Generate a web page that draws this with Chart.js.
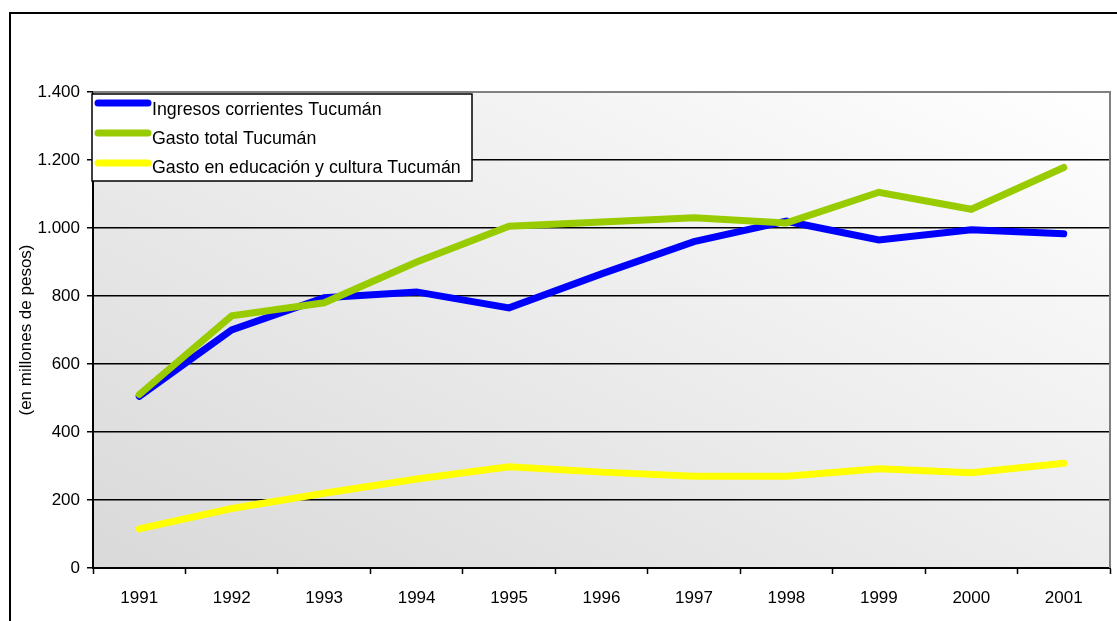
<!DOCTYPE html>
<html>
<head>
<meta charset="utf-8">
<title>Ingresos y gastos Tucumán</title>
<script src="https://cdn.jsdelivr.net/npm/chart.js@4.4.1/dist/chart.umd.min.js"></script>
<style>
  html, body { margin: 0; padding: 0; background: #fff; }
  #wrap { width: 1117px; height: 621px; }
</style>
</head>
<body>
<div id="wrap"><canvas id="chart" width="1117" height="621"></canvas></div>
<script>
'use strict';

var years = ['1991', '1992', '1993', '1994', '1995', '1996', '1997', '1998', '1999', '2000', '2001'];
var seriesNames = [
  'Ingresos corrientes Tucumán',
  'Gasto total Tucumán',
  'Gasto en educación y cultura Tucumán'
];
var ingresos = [505, 700, 795, 812, 765, 865, 960, 1020, 965, 995, 983];
var gastoTotal = [510, 742, 780, 900, 1005, 1018, 1030, 1015, 1105, 1055, 1178];
var gastoEducacion = [115, 175, 220, 262, 298, 282, 270, 270, 292, 280, 308];
var yMin = 0;
var yMax = 1400;
var yStep = 200;
var yTitle = '(en millones de pesos)';

var FONT = '"Liberation Sans", Arial, sans-serif';

function fmtThousands(v) {
  return String(v).replace(/\B(?=(\d{3})+(?!\d))/g, '.');
}

// white page, outer frame, gradient plot background
var backgroundPlugin = {
  id: 'background',
  beforeDraw: function(chart) {
    var ctx = chart.ctx;
    var a = chart.chartArea;
    ctx.save();
    ctx.fillStyle = '#fff';
    ctx.fillRect(0, 0, chart.width, chart.height);
    ctx.strokeStyle = '#000';
    ctx.lineWidth = 2;
    ctx.strokeRect(10, 13, chart.width + 20, chart.height + 20);
    var g = ctx.createLinearGradient(a.left, a.bottom, a.left + 394, a.bottom - 789);
    g.addColorStop(0, '#d9d9d9');
    g.addColorStop(1, '#ffffff');
    ctx.fillStyle = g;
    ctx.fillRect(a.left, a.top, a.right - a.left, a.bottom - a.top);
    ctx.restore();
  },
  beforeDatasetsDraw: function(chart) {
    var ctx = chart.ctx;
    var a = chart.chartArea;
    ctx.save();
    ctx.strokeStyle = '#808080';
    ctx.lineWidth = 2;
    ctx.beginPath();
    ctx.moveTo(a.left, a.top);
    ctx.lineTo(a.right, a.top);
    ctx.lineTo(a.right, a.bottom);
    ctx.stroke();
    ctx.restore();
  }
};

// boxed legend drawn inside the plot, top left
var boxLegendPlugin = {
  id: 'boxLegend',
  afterDraw: function(chart) {
    var ctx = chart.ctx;
    var x0 = 92, y0 = 94, w = 380, h = 87;
    ctx.save();
    ctx.fillStyle = '#fff';
    ctx.fillRect(x0, y0, w, h);
    ctx.strokeStyle = '#000';
    ctx.lineWidth = 1.5;
    ctx.strokeRect(x0, y0, w, h);
    ctx.font = '17.8px ' + FONT;
    ctx.textBaseline = 'middle';
    ctx.textAlign = 'left';
    chart.data.datasets.forEach(function(ds, i) {
      var sy = 103 + i * 30;
      ctx.strokeStyle = ds.borderColor;
      ctx.lineWidth = 7;
      ctx.lineCap = 'round';
      ctx.beginPath();
      ctx.moveTo(98, sy);
      ctx.lineTo(148, sy);
      ctx.stroke();
      ctx.fillStyle = '#000';
      ctx.fillText(ds.label, 152, 110 + i * 29);
    });
    ctx.restore();
  }
};

function lineSet(label, data, color, order) {
  return {
    label: label,
    data: data,
    borderColor: color,
    backgroundColor: color,
    borderWidth: 7,
    borderCapStyle: 'round',
    borderJoinStyle: 'miter',
    pointRadius: 0,
    pointHoverRadius: 0,
    tension: 0,
    fill: false,
    order: order
  };
}

new Chart(document.getElementById('chart'), {
  type: 'line',
  data: {
    labels: years,
    datasets: [
      lineSet(seriesNames[0], ingresos, '#0000ff', 3),
      lineSet(seriesNames[1], gastoTotal, '#99cc00', 2),
      lineSet(seriesNames[2], gastoEducacion, '#ffff00', 1)
    ]
  },
  options: {
    responsive: false,
    animation: false,
    events: [],
    layout: { padding: { left: 0, top: 92, right: 7, bottom: 0 } },
    plugins: {
      legend: { display: false },
      title: { display: false },
      tooltip: { enabled: false }
    },
    scales: {
      x: {
        offset: true,
        afterFit: function(s) { s.height = 53; },
        border: { display: true, color: '#000', width: 2 },
        grid: {
          offset: true,
          drawOnChartArea: false,
          drawTicks: true,
          tickLength: 6,
          tickColor: '#000',
          tickWidth: 1.5
        },
        ticks: {
          color: '#000',
          padding: 14,
          maxRotation: 0,
          font: { family: FONT, size: 17 }
        }
      },
      y: {
        min: yMin,
        max: yMax,
        afterFit: function(s) { s.width = 93; },
        border: { display: true, color: '#000', width: 2 },
        grid: {
          color: function(c) { return c.tick && c.tick.value === yMax ? 'rgba(0,0,0,0)' : '#000'; },
          lineWidth: 1.5,
          drawTicks: true,
          tickLength: 6,
          tickColor: '#000',
          tickWidth: 1.5
        },
        ticks: {
          stepSize: yStep,
          color: '#000',
          padding: 7,
          font: { family: FONT, size: 17 },
          callback: function(v) { return fmtThousands(v); }
        },
        title: {
          display: true,
          text: yTitle,
          color: '#000',
          padding: { top: 16, bottom: 0 },
          font: { family: FONT, size: 17 }
        }
      }
    }
  },
  plugins: [backgroundPlugin, boxLegendPlugin]
});
</script>
</body>
</html>
